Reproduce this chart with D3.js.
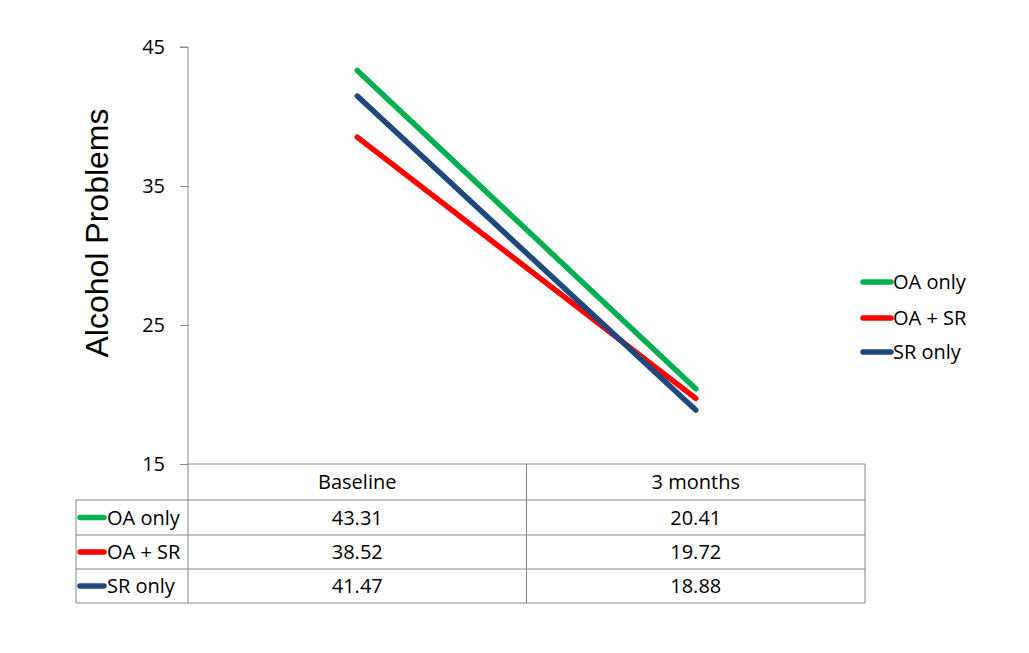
<!DOCTYPE html>
<html><head><meta charset="utf-8">
<script src="https://cdn.jsdelivr.net/npm/d3@7"></script>
<style>body{margin:0;background:#fff}</style>
</head><body>
<svg id="c" width="1029" height="653"></svg>
<script>
const categories = ["Baseline", "3 months"];
const seriesNames = ["OA only", "OA + SR", "SR only"];
const oaOnly = [43.31, 20.41];
const oaSr = [38.52, 19.72];
const srOnly = [41.47, 18.88];
const colors = ["#00B050", "#FF0000", "#1F497D"];
const yTicks = [15, 25, 35, 45];
const yTitle = "Alcohol Problems";

(function () {
const series = [oaOnly, oaSr, srOnly];
const svg = d3.select("#c");
const font = "'Open Sans', Lato, sans-serif";
const fs = 20;
const pLeft = 188, pRight = 865, pTop = 47, pBottom = 464;
const rowH = [36, 35, 34, 34];

const x = d3.scaleBand().domain(categories).range([pLeft, pRight]);
const y = d3.scaleLinear().domain([15, 45]).range([pBottom, pTop]);

const ax = svg.append("g").attr("transform", `translate(${pLeft},0)`)
  .call(d3.axisLeft(y).tickValues(yTicks).tickSize(8).tickPadding(15).tickFormat(d3.format("d")));
ax.select(".domain").attr("stroke", "#868686").attr("d", `M-8,${pTop}H0V${pBottom}`);
ax.selectAll(".tick line").attr("stroke", "#868686");
ax.selectAll(".tick text").attr("font-family", font).attr("font-size", fs).attr("fill", "#000");

svg.append("text").attr("transform", `translate(108,233) rotate(-90)`)
  .attr("text-anchor", "middle").attr("font-family", "'Liberation Sans', Arial, sans-serif")
  .attr("font-size", 32).text(yTitle);

const line = d3.line().x((d, i) => x(categories[i]) + x.bandwidth() / 2).y(d => y(d));
series.forEach((s, i) => {
  svg.append("path").attr("d", line(s)).attr("fill", "none").attr("stroke", colors[i])
    .attr("stroke-width", 5.5).attr("stroke-linecap", "round");
});

const legY = [282, 318, 352];
seriesNames.forEach((n, i) => {
  svg.append("line").attr("x1", 863).attr("x2", 891).attr("y1", legY[i]).attr("y2", legY[i])
    .attr("stroke", colors[i]).attr("stroke-width", 5.5).attr("stroke-linecap", "round");
  svg.append("text").attr("x", 893).attr("y", legY[i] + 7).attr("font-family", font)
    .attr("font-size", fs).text(n);
});

const g = svg.append("g");
const stroke = "#868686";
const rowTops = [pBottom];
rowH.forEach(h => rowTops.push(rowTops[rowTops.length - 1] + h));
const tabBottom = rowTops[rowTops.length - 1];
g.append("line").attr("x1", pLeft).attr("x2", pRight).attr("y1", pBottom).attr("y2", pBottom).attr("stroke", stroke);
for (let r = 1; r < rowTops.length; r++) {
  g.append("line").attr("x1", 76).attr("x2", pRight).attr("y1", rowTops[r]).attr("y2", rowTops[r]).attr("stroke", stroke);
}
g.append("line").attr("x1", 76).attr("x2", 76).attr("y1", rowTops[1]).attr("y2", tabBottom).attr("stroke", stroke);
g.append("line").attr("x1", pLeft).attr("x2", pLeft).attr("y1", pBottom).attr("y2", tabBottom).attr("stroke", stroke);
categories.forEach(c => {
  const xe = x(c) + x.bandwidth();
  g.append("line").attr("x1", xe).attr("x2", xe).attr("y1", pBottom).attr("y2", tabBottom).attr("stroke", stroke);
});
categories.forEach(c => {
  g.append("text").attr("x", x(c) + x.bandwidth() / 2).attr("y", (rowTops[0] + rowTops[1]) / 2 + 7)
    .attr("text-anchor", "middle").attr("font-family", font).attr("font-size", fs).text(c);
});
series.forEach((s, i) => {
  const cy = (rowTops[i + 1] + rowTops[i + 2]) / 2;
  g.append("line").attr("x1", 80).attr("x2", 104).attr("y1", cy).attr("y2", cy)
    .attr("stroke", colors[i]).attr("stroke-width", 5.5).attr("stroke-linecap", "round");
  g.append("text").attr("x", 107).attr("y", cy + 7).attr("font-family", font).attr("font-size", fs).text(seriesNames[i]);
  s.forEach((v, j) => {
    g.append("text").attr("x", x(categories[j]) + x.bandwidth() / 2).attr("y", cy + 7)
      .attr("text-anchor", "middle").attr("font-family", font).attr("font-size", fs).text(d3.format(".2f")(v));
  });
});
})();
</script>
</body></html>
